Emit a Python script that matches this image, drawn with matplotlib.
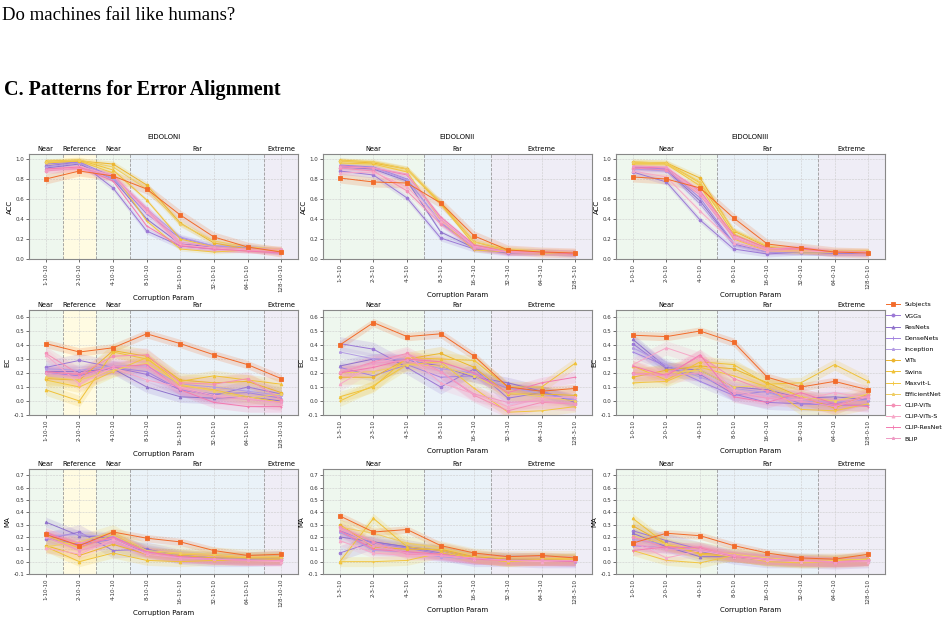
import numpy as np
import matplotlib
matplotlib.use("Agg")
import matplotlib.pyplot as plt
from matplotlib.lines import Line2D

# series, in legend order
models = ["Subjects", "VGGs", "ResNets", "DenseNets", "Inception", "ViTs", "Swins",
          "Maxvit-L", "EfficientNet", "CLIP-ViTs", "CLIP-ViTs-S", "CLIP-ResNet", "BLIP"]

titles = ["EIDOLONI", "EIDOLONII", "EIDOLONIII"]
metrics = ["ACC", "EC", "MA"]

ticks_1 = ["1-10-10", "2-10-10", "4-10-10", "8-10-10", "16-10-10", "32-10-10", "64-10-10", "128-10-10"]
ticks_2 = ["1-3-10", "2-3-10", "4-3-10", "8-3-10", "16-3-10", "32-3-10", "64-3-10", "128-3-10"]
ticks_3 = ["1-0-10", "2-0-10", "4-0-10", "8-0-10", "16-0-10", "32-0-10", "64-0-10", "128-0-10"]

# regions: (label, start, end) in tick index units
regions_1 = [("Near", -0.5, 0.5), ("Reference", 0.5, 1.5), ("Near", 1.5, 2.5), ("Far", 2.5, 6.5), ("Extreme", 6.5, 7.5)]
regions_2 = [("Near", -0.5, 2.5), ("Far", 2.5, 4.5), ("Extreme", 4.5, 7.5)]
regions_3 = [("Near", -0.5, 2.5), ("Far", 2.5, 5.5), ("Extreme", 5.5, 7.5)]

# ---- ACC ----
acc_1 = [
    [0.80, 0.88, 0.83, 0.70, 0.44, 0.22, 0.12, 0.07],
    [0.93, 0.97, 0.71, 0.28, 0.13, 0.10, 0.10, 0.08],
    [0.91, 0.95, 0.80, 0.40, 0.15, 0.12, 0.12, 0.08],
    [0.95, 0.97, 0.82, 0.45, 0.21, 0.13, 0.12, 0.07],
    [0.92, 0.96, 0.80, 0.50, 0.22, 0.13, 0.12, 0.08],
    [0.97, 0.98, 0.95, 0.74, 0.36, 0.16, 0.10, 0.09],
    [0.98, 0.99, 0.89, 0.59, 0.20, 0.12, 0.10, 0.08],
    [0.96, 0.98, 0.86, 0.38, 0.10, 0.07, 0.09, 0.09],
    [0.97, 0.99, 0.92, 0.70, 0.35, 0.18, 0.12, 0.10],
    [0.88, 0.91, 0.84, 0.49, 0.15, 0.10, 0.09, 0.07],
    [0.89, 0.93, 0.83, 0.47, 0.14, 0.11, 0.09, 0.09],
    [0.90, 0.92, 0.78, 0.33, 0.13, 0.10, 0.08, 0.06],
    [0.89, 0.90, 0.83, 0.51, 0.17, 0.12, 0.10, 0.10],
]
acc_2 = [
    [0.81, 0.77, 0.76, 0.56, 0.23, 0.09, 0.07, 0.06],
    [0.88, 0.84, 0.61, 0.21, 0.10, 0.06, 0.07, 0.05],
    [0.92, 0.90, 0.78, 0.27, 0.11, 0.07, 0.07, 0.06],
    [0.94, 0.92, 0.80, 0.36, 0.12, 0.07, 0.07, 0.06],
    [0.93, 0.91, 0.79, 0.37, 0.12, 0.08, 0.07, 0.06],
    [0.98, 0.96, 0.90, 0.56, 0.17, 0.09, 0.07, 0.06],
    [0.99, 0.97, 0.90, 0.55, 0.14, 0.08, 0.06, 0.06],
    [0.96, 0.95, 0.87, 0.39, 0.09, 0.07, 0.07, 0.06],
    [0.98, 0.97, 0.90, 0.57, 0.17, 0.10, 0.08, 0.07],
    [0.91, 0.88, 0.68, 0.35, 0.11, 0.07, 0.07, 0.06],
    [0.86, 0.87, 0.72, 0.38, 0.13, 0.07, 0.07, 0.06],
    [0.93, 0.91, 0.84, 0.42, 0.14, 0.07, 0.07, 0.05],
    [0.92, 0.91, 0.85, 0.40, 0.12, 0.07, 0.07, 0.07],
]
acc_3 = [
    [0.82, 0.80, 0.71, 0.41, 0.15, 0.11, 0.07, 0.06],
    [0.87, 0.77, 0.39, 0.10, 0.05, 0.07, 0.06, 0.06],
    [0.91, 0.89, 0.58, 0.15, 0.07, 0.07, 0.06, 0.06],
    [0.92, 0.90, 0.61, 0.16, 0.08, 0.07, 0.06, 0.06],
    [0.90, 0.88, 0.55, 0.14, 0.07, 0.07, 0.07, 0.06],
    [0.97, 0.96, 0.81, 0.28, 0.12, 0.08, 0.07, 0.07],
    [0.96, 0.96, 0.76, 0.25, 0.10, 0.08, 0.07, 0.07],
    [0.95, 0.95, 0.73, 0.20, 0.08, 0.07, 0.07, 0.08],
    [0.97, 0.96, 0.77, 0.29, 0.13, 0.09, 0.08, 0.08],
    [0.91, 0.89, 0.64, 0.21, 0.09, 0.10, 0.07, 0.06],
    [0.88, 0.82, 0.48, 0.16, 0.08, 0.08, 0.07, 0.06],
    [0.92, 0.91, 0.68, 0.24, 0.11, 0.10, 0.07, 0.07],
    [0.93, 0.92, 0.66, 0.22, 0.10, 0.12, 0.07, 0.07],
]

# ---- EC ----
ec_1 = [
    [0.41, 0.35, 0.38, 0.48, 0.41, 0.33, 0.26, 0.16],
    [0.24, 0.29, 0.24, 0.19, 0.08, 0.04, 0.10, 0.05],
    [0.21, 0.21, 0.23, 0.10, 0.03, 0.02, 0.03, 0.00],
    [0.20, 0.18, 0.24, 0.21, 0.08, 0.05, 0.06, 0.02],
    [0.23, 0.22, 0.25, 0.25, 0.12, 0.10, 0.07, 0.04],
    [0.16, 0.15, 0.36, 0.32, 0.15, 0.13, 0.14, 0.06],
    [0.08, 0.00, 0.35, 0.30, 0.14, 0.18, 0.15, 0.12],
    [0.15, 0.10, 0.21, 0.31, 0.11, 0.08, 0.03, -0.01],
    [0.17, 0.15, 0.22, 0.27, 0.12, 0.07, 0.02, 0.05],
    [0.34, 0.19, 0.32, 0.33, 0.13, 0.12, 0.16, 0.01],
    [0.33, 0.12, 0.24, 0.15, 0.10, 0.04, 0.02, -0.02],
    [0.21, 0.19, 0.24, 0.26, 0.08, -0.01, -0.04, -0.04],
    [0.20, 0.17, 0.25, 0.24, 0.09, 0.03, 0.01, -0.01],
]
ec_2 = [
    [0.40, 0.56, 0.46, 0.48, 0.32, 0.10, 0.07, 0.09],
    [0.41, 0.37, 0.24, 0.10, 0.23, 0.02, 0.06, 0.00],
    [0.25, 0.30, 0.29, 0.25, 0.17, 0.13, 0.07, -0.01],
    [0.24, 0.18, 0.26, 0.17, 0.18, 0.09, 0.07, 0.00],
    [0.35, 0.30, 0.30, 0.23, 0.20, 0.10, 0.05, 0.01],
    [0.17, 0.17, 0.30, 0.34, 0.24, 0.05, 0.05, 0.04],
    [0.03, 0.10, 0.31, 0.30, 0.29, 0.10, 0.10, 0.27],
    [0.00, 0.11, 0.26, 0.28, 0.09, -0.08, -0.07, -0.04],
    [0.20, 0.21, 0.26, 0.25, 0.18, 0.06, 0.03, 0.00],
    [0.20, 0.28, 0.34, 0.21, 0.04, -0.07, -0.01, -0.02],
    [0.12, 0.26, 0.33, 0.13, 0.05, -0.04, 0.02, 0.03],
    [0.20, 0.24, 0.30, 0.28, 0.20, 0.06, 0.13, 0.17],
    [0.21, 0.27, 0.29, 0.21, 0.05, -0.01, 0.00, -0.02],
]
ec_3 = [
    [0.47, 0.46, 0.50, 0.42, 0.17, 0.10, 0.14, 0.08],
    [0.41, 0.23, 0.19, 0.05, -0.01, -0.02, -0.02, 0.02],
    [0.44, 0.24, 0.22, 0.10, 0.08, 0.02, 0.03, 0.01],
    [0.35, 0.25, 0.14, 0.04, 0.07, -0.02, -0.03, -0.03],
    [0.38, 0.26, 0.17, 0.09, 0.06, 0.00, -0.01, 0.01],
    [0.17, 0.22, 0.25, 0.23, 0.13, 0.03, -0.05, 0.05],
    [0.25, 0.15, 0.28, 0.26, 0.12, 0.13, 0.26, 0.14],
    [0.13, 0.14, 0.24, 0.18, 0.10, -0.06, -0.07, -0.02],
    [0.20, 0.20, 0.22, 0.10, 0.11, 0.03, 0.00, 0.05],
    [0.20, 0.19, 0.32, 0.16, 0.07, 0.02, -0.03, 0.04],
    [0.26, 0.38, 0.30, 0.08, 0.02, 0.01, 0.06, 0.02],
    [0.25, 0.18, 0.33, 0.03, -0.01, 0.06, -0.02, -0.04],
    [0.19, 0.18, 0.20, 0.06, 0.02, 0.00, -0.04, 0.03],
]

# ---- MA ----
ma_1 = [
    [0.22, 0.13, 0.24, 0.19, 0.16, 0.09, 0.05, 0.06],
    [0.18, 0.24, 0.09, 0.10, 0.04, 0.02, 0.02, 0.03],
    [0.32, 0.21, 0.19, 0.10, 0.05, 0.03, 0.02, 0.02],
    [0.19, 0.14, 0.18, 0.07, 0.03, 0.02, 0.02, 0.02],
    [0.21, 0.22, 0.20, 0.09, 0.05, 0.03, 0.02, 0.02],
    [0.13, 0.05, 0.14, 0.06, 0.05, 0.03, 0.03, 0.03],
    [0.12, 0.00, 0.07, 0.01, 0.00, 0.01, 0.01, 0.02],
    [0.21, 0.11, 0.22, 0.08, 0.06, 0.05, 0.03, 0.03],
    [0.12, 0.16, 0.24, 0.09, 0.07, 0.06, 0.04, 0.04],
    [0.23, 0.15, 0.19, 0.08, 0.04, 0.02, 0.01, 0.01],
    [0.11, 0.06, 0.18, 0.06, 0.03, 0.02, 0.01, 0.00],
    [0.24, 0.12, 0.20, 0.08, 0.04, 0.02, 0.01, 0.01],
    [0.20, 0.09, 0.16, 0.07, 0.03, 0.02, 0.01, 0.01],
]
ma_2 = [
    [0.37, 0.24, 0.26, 0.13, 0.07, 0.04, 0.05, 0.03],
    [0.07, 0.16, 0.12, 0.07, 0.02, 0.02, 0.01, 0.01],
    [0.20, 0.16, 0.12, 0.09, 0.03, 0.02, 0.02, 0.01],
    [0.25, 0.15, 0.11, 0.06, 0.02, 0.02, 0.01, 0.01],
    [0.24, 0.09, 0.08, 0.04, 0.02, 0.01, 0.01, 0.00],
    [0.30, 0.12, 0.10, 0.10, 0.04, 0.02, 0.02, 0.02],
    [0.00, 0.35, 0.12, 0.09, 0.03, 0.00, 0.02, 0.03],
    [0.00, 0.00, 0.01, 0.07, 0.03, 0.00, 0.01, 0.02],
    [0.28, 0.23, 0.15, 0.11, 0.05, 0.03, 0.03, 0.03],
    [0.28, 0.16, 0.06, 0.06, 0.02, 0.01, 0.01, 0.01],
    [0.17, 0.07, 0.05, 0.05, 0.02, 0.01, 0.00, 0.01],
    [0.25, 0.10, 0.08, 0.06, 0.02, 0.01, 0.01, 0.00],
    [0.27, 0.13, 0.07, 0.05, 0.03, 0.01, 0.01, 0.01],
]
ma_3 = [
    [0.15, 0.23, 0.21, 0.13, 0.07, 0.03, 0.02, 0.06],
    [0.25, 0.17, 0.10, 0.04, 0.01, 0.01, 0.00, 0.01],
    [0.23, 0.12, 0.04, 0.04, 0.01, 0.00, 0.00, 0.01],
    [0.13, 0.11, 0.08, 0.04, 0.01, 0.00, 0.00, 0.01],
    [0.18, 0.14, 0.09, 0.05, 0.02, 0.01, 0.00, 0.01],
    [0.29, 0.14, 0.07, 0.05, 0.02, 0.01, 0.01, 0.02],
    [0.35, 0.14, 0.06, 0.04, 0.01, 0.00, 0.01, 0.02],
    [0.09, 0.01, -0.01, 0.05, 0.00, -0.01, 0.00, 0.01],
    [0.21, 0.14, 0.10, 0.06, 0.03, 0.01, 0.01, 0.02],
    [0.20, 0.11, 0.12, 0.05, 0.02, 0.01, -0.01, 0.01],
    [0.16, 0.03, 0.09, 0.04, 0.01, 0.00, 0.00, 0.00],
    [0.09, 0.12, 0.11, 0.04, 0.02, 0.01, 0.00, 0.01],
    [0.14, 0.10, 0.10, 0.05, 0.02, 0.01, 0.00, 0.01],
]

# half width of the shaded band, one per series
spread_acc = [0.05, 0.03, 0.02, 0.03, 0.03, 0.03, 0.02, 0.02, 0.03, 0.03, 0.03, 0.02, 0.03]
spread_ec = [0.03, 0.05, 0.04, 0.04, 0.04, 0.05, 0.04, 0.04, 0.05, 0.05, 0.05, 0.04, 0.05]
spread_ma = [0.03, 0.06, 0.04, 0.04, 0.04, 0.05, 0.04, 0.04, 0.06, 0.04, 0.04, 0.04, 0.04]

colors = ["#f26b2a",
          "#9b78d6", "#8f72cc", "#a283e0", "#b39be3",
          "#ecb52e", "#f0c238", "#f2c640", "#efcd62",
          "#f48fb5", "#f7a8c8", "#f37ab0", "#ef9ac4"]
markers = ["s", "o", "^", "+", "*", "o", "^", "+", "*", "o", "^", "+", "*"]

region_colors = {"Near": "#eef7ee", "Reference": "#fffbe2", "Far": "#eaf2f8", "Extreme": "#efedf6"}

data = [[acc_1, acc_2, acc_3], [ec_1, ec_2, ec_3], [ma_1, ma_2, ma_3]]
spreads = [spread_acc, spread_ec, spread_ma]
ticks = [ticks_1, ticks_2, ticks_3]
regions = [regions_1, regions_2, regions_3]
ylims = [(0, 1.05), (-0.1, 0.65), (-0.1, 0.75)]
yticks = [np.arange(0, 1.01, 0.2), np.arange(-0.1, 0.61, 0.1), np.arange(-0.1, 0.71, 0.1)]

plt.rcParams["font.family"] = ["DejaVu Sans"]

W, H = 944, 619
fig = plt.figure(figsize=(W / 100, H / 100), dpi=100)

fig.text(2 / W, 1 - 15 / H, "Do machines fail like humans?", family="Liberation Serif",
         fontsize=13.5, va="center", ha="left")
fig.text(4 / W, 1 - 90 / H, "C. Patterns for Error Alignment", family="Liberation Serif",
         fontsize=14.5, fontweight="bold", va="center", ha="left")

lefts = [29, 323, 616]
tops = [154, 310, 469]
aw, ah = 269, 105

x = np.arange(8)
for r in range(3):
    for c in range(3):
        ax = fig.add_axes([lefts[c] / W, 1 - (tops[r] + ah) / H, aw / W, ah / H])
        for name, a, b in regions[c]:
            ax.axvspan(a, b, color=region_colors[name], zorder=0, lw=0)
            ax.text((a + b) / 2, 1.015, name, transform=ax.get_xaxis_transform(),
                    ha="center", va="bottom", fontsize=4.8)
        for name, a, b in regions[c][1:]:
            ax.axvline(a, color="#999999", ls="--", lw=0.6, zorder=1)
        for i in range(len(models)):
            y = np.array(data[r][c][i])
            s = spreads[r][i]
            ax.fill_between(x, y - s, y + s, color=colors[i], alpha=0.18, lw=0, zorder=2)
        for i in range(len(models)):
            y = np.array(data[r][c][i])
            ms = 2.6 if i == 0 else 2.0
            ax.plot(x, y, color=colors[i], marker=markers[i], ms=ms, lw=0.7,
                    mew=0.6, zorder=4 if i == 0 else 3)
        ax.set_xlim(-0.5, 7.5)
        ax.set_ylim(*ylims[r])
        ax.set_yticks(yticks[r])
        ax.set_yticklabels(["%.1f" % v for v in yticks[r]])
        ax.set_xticks(x)
        ax.set_xticklabels(ticks[c], rotation=90)
        ax.tick_params(labelsize=4, length=2, width=0.5, pad=1.5, colors="#333333")
        ax.grid(True, ls="--", lw=0.4, color="#cccccc", zorder=1)
        ax.set_axisbelow(True)
        for sp in ax.spines.values():
            sp.set_color("#888888")
            sp.set_linewidth(0.8)
        ax.set_ylabel(metrics[r], fontsize=5, labelpad=2)
        ax.set_xlabel("Corruption Param", fontsize=5, labelpad=2)
        if r == 0:
            ax.set_title(titles[c], fontsize=5, pad=11)

handles = [Line2D([], [], color=colors[i], marker=markers[i], ms=2.2, lw=0.7, mew=0.6)
           for i in range(len(models))]
fig.legend(handles, models, loc="upper left", bbox_to_anchor=(886 / W, 1 - 302 / H),
           frameon=False, fontsize=4.5, handlelength=2.2, labelspacing=0.93,
           borderaxespad=0, borderpad=0, handletextpad=0.8)

fig.savefig("out.png", dpi=100)
